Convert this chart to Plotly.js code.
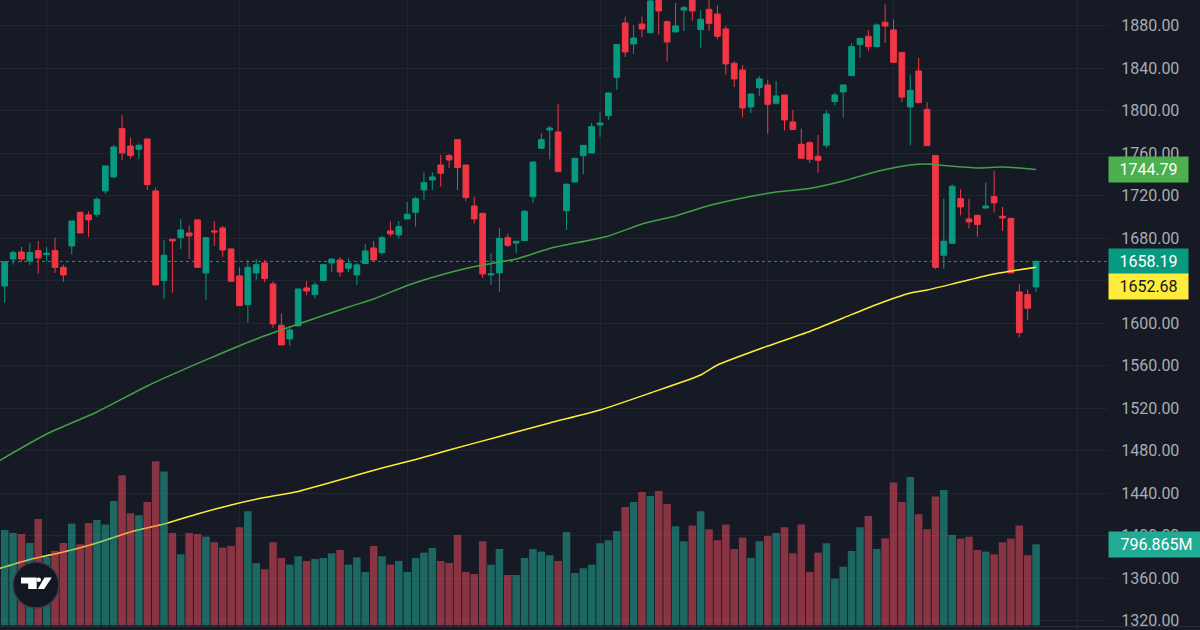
<!DOCTYPE html>
<html>
<head>
<meta charset="utf-8">
<script src="https://cdn.plot.ly/plotly-3.0.1.min.js"></script>
<style>html,body{margin:0;padding:0;background:#161A25;overflow:hidden}#chart{width:1200px;height:630px}</style>
</head>
<body>
<div id="chart"></div>
<script>
var opens = [1635.1,1660.5,1667.1,1658.6,1668.4,1664.6,1668.4,1652.7,1672.8,1704.5,
1702.0,1702.6,1724.6,1737.7,1783.2,1766.9,1763.8,1773.5,1724.6,1640.2,
1679.1,1680.6,1685.0,1697.3,1647.4,1686.9,1689.7,1670.0,1644.6,1617.6,
1647.4,1656.8,1637.0,1598.1,1585.3,1597.5,1633.3,1627.0,1640.2,1656.8,
1659.6,1651.8,1645.5,1656.2,1670.9,1666.5,1686.9,1683.1,1698.2,1704.5,
1725.5,1734.9,1749.0,1757.8,1772.9,1749.0,1710.4,1703.5,1645.5,1647.4,
1680.6,1675.6,1677.8,1719.2,1764.7,1782.0,1780.1,1706.0,1733.0,1757.8,
1760.3,1786.7,1795.4,1831.5,1882.7,1862.9,1881.7,1873.6,1907.4,1883.9,
1874.2,1894.9,1908.0,1876.4,1895.5,1891.1,1877.0,1844.7,1838.4,1803.6,
1821.8,1824.3,1807.1,1814.9,1789.5,1768.5,1770.0,1757.2,1767.5,1808.6,
1817.7,1833.1,1862.3,1870.1,1860.4,1883.3,1876.1,1855.0,1803.6,1837.5,
1801.4,1757.8,1664.0,1675.3,1717.3,1698.2,1701.6,1708.5,1719.2,1700.7,
1698.8,1629.5,1627.0,1634.2];
var highs = [1658.4,1668.4,1671.8,1675.3,1677.5,1671.8,1680.6,1655.2,1696.3,1704.5,
1705.4,1718.6,1748.1,1767.9,1795.8,1774.8,1769.4,1773.5,1728.0,1678.1,
1679.1,1697.9,1692.2,1697.3,1680.6,1696.3,1691.6,1670.0,1652.7,1659.6,
1660.5,1659.6,1639.5,1609.4,1597.2,1632.3,1639.5,1638.6,1655.2,1660.5,
1662.4,1661.2,1656.5,1674.7,1677.5,1682.2,1695.7,1696.3,1714.2,1719.2,
1742.1,1742.1,1758.7,1759.4,1772.9,1749.0,1719.2,1703.5,1665.9,1689.4,
1684.1,1677.2,1706.7,1751.8,1778.8,1785.7,1806.4,1731.8,1755.3,1767.5,
1788.5,1798.3,1817.4,1862.3,1888.6,1880.8,1888.6,1906.0,1912.0,1884.9,
1901.5,1899.0,1912.0,1894.9,1906.0,1899.3,1879.8,1846.6,1843.1,1815.8,
1832.5,1829.0,1828.1,1814.9,1800.8,1783.2,1771.3,1777.3,1800.5,1816.8,
1824.3,1863.8,1868.2,1876.1,1882.3,1900.2,1886.1,1855.0,1834.3,1849.7,
1808.0,1757.8,1717.3,1730.8,1726.1,1717.3,1701.6,1732.4,1743.7,1709.5,
1698.8,1637.0,1631.4,1659.6];
var lows = [1619.4,1655.2,1658.0,1654.9,1646.4,1658.3,1647.4,1639.2,1664.6,1685.0,
1681.3,1700.1,1721.7,1736.8,1753.4,1755.0,1754.4,1725.5,1636.1,1622.9,
1628.9,1670.0,1660.5,1652.7,1622.0,1672.8,1662.4,1639.5,1616.6,1600.6,
1641.1,1638.6,1595.6,1579.6,1578.7,1597.5,1626.4,1623.5,1640.2,1648.3,
1643.9,1648.3,1636.1,1656.2,1659.6,1664.6,1681.6,1679.7,1698.2,1691.0,
1715.8,1725.5,1728.6,1746.2,1725.5,1714.8,1693.8,1642.7,1636.1,1629.8,
1671.8,1665.9,1677.8,1713.3,1764.1,1754.4,1742.7,1687.8,1732.4,1740.2,
1760.3,1775.4,1791.4,1819.9,1850.7,1853.5,1869.2,1872.9,1871.7,1846.3,
1873.9,1875.1,1884.9,1859.4,1875.1,1867.3,1834.0,1822.4,1793.6,1798.0,
1814.0,1778.2,1805.8,1781.3,1782.3,1755.3,1750.9,1741.8,1765.0,1804.9,
1793.6,1833.1,1849.7,1856.0,1859.8,1863.8,1845.0,1808.3,1767.5,1807.1,
1767.2,1650.8,1651.5,1675.3,1701.6,1689.4,1681.3,1707.6,1704.2,1686.9,
1647.4,1586.8,1603.1,1629.5];
var closes = [1658.0,1666.5,1660.5,1666.5,1661.5,1665.9,1652.7,1645.5,1696.3,1685.0,
1697.3,1716.7,1748.1,1766.0,1760.3,1757.8,1767.5,1730.5,1636.1,1664.0,
1677.5,1687.9,1682.2,1652.7,1680.6,1686.0,1669.0,1639.5,1616.6,1652.7,
1655.2,1642.1,1599.4,1579.6,1593.7,1632.3,1630.4,1636.1,1655.2,1660.5,
1648.3,1656.2,1654.9,1668.1,1659.6,1680.6,1684.1,1691.0,1702.6,1717.3,
1732.4,1737.7,1741.2,1753.7,1746.5,1718.3,1698.2,1646.4,1646.4,1680.0,
1673.4,1677.2,1705.4,1751.8,1772.9,1783.8,1742.7,1730.8,1755.3,1767.5,
1785.1,1788.5,1816.8,1862.3,1855.4,1868.5,1877.0,1903.4,1893.9,1864.8,
1879.8,1897.1,1893.9,1886.1,1882.3,1870.1,1844.1,1830.0,1802.7,1815.8,
1830.0,1806.1,1814.0,1791.4,1782.3,1755.3,1754.4,1753.4,1797.0,1814.9,
1824.3,1860.4,1868.2,1860.4,1880.8,1879.8,1845.6,1813.0,1819.3,1807.7,
1767.2,1652.7,1677.2,1728.9,1709.5,1695.4,1692.9,1710.4,1713.3,1699.1,
1647.4,1591.2,1614.1,1658.19];
var volumes = [938,909,899,810,1046,676,731,810,1000,797,
1007,1036,991,1223,1476,1102,1082,1214,1614,1512,
909,699,909,899,872,817,764,781,964,1122,
613,551,817,663,597,679,633,653,663,708,
741,597,669,525,781,679,597,633,525,663,
715,761,633,613,889,525,505,827,597,751,
495,495,663,751,725,689,633,918,515,561,
597,807,836,928,1164,1214,1312,1273,1322,1194,
974,827,981,1122,945,836,991,751,863,663,
827,879,909,964,708,991,525,715,807,459,
577,731,964,1076,751,856,1404,1214,1460,1092,
945,1266,1332,889,853,872,741,725,699,817,
853,981,689,796.865];
var greenMaBars = [-1,5,11,17,24,30,34,41,44,48,52,55,57,61,65,72,76,80,84,88,92,96,100,104,108,110,112,116,119,123];
var greenMaValues = [1469.0,1495.8,1516.5,1541.0,1565.5,1585.2,1596.5,1615.3,1622.9,1635.6,1645.5,1651.6,1654.9,1660.5,1670.4,1682.2,1693.5,1701.0,1710.9,1717.9,1723.6,1726.9,1733.9,1742.9,1749.0,1749.9,1748.5,1746.2,1747.1,1744.79];
var yellowMaBars = [-1,3,7,11,15,19,23,27,31,35,41,45,49,53,59,65,71,77,83,85,91,96,100,104,108,110,114,118,123];
var yellowMaValues = [1368.3,1377.7,1384.7,1393.2,1403.6,1411.1,1420.5,1429.0,1436.0,1441.7,1454.9,1463.8,1471.8,1480.7,1493.5,1506.2,1518.4,1534.4,1551.3,1560.7,1578.6,1592.3,1605.0,1617.7,1628.5,1631.3,1638.9,1646.4,1652.68];
var priceTicks = [1320,1360,1400,1440,1480,1520,1560,1600,1640,1680,1720,1760,1800,1840,1880];
var timeGridBars = [5,28,48,71,91,106,128];

var W = 1200, H = 630, PW = 1108, PH = 630;
var UP = '#089981', DOWN = '#F23645', GRID = '#212530', BG = '#161A25';
var bars = closes.map(function (_, i) { return i; });
var lastClose = closes[closes.length - 1];
var lastVol = volumes[volumes.length - 1];
var lastGreen = greenMaValues[greenMaValues.length - 1];
var lastYellow = yellowMaValues[yellowMaValues.length - 1];
function pxX(x) { return x / PW; }
function pxY(y) { return 1 - y / PH; }
function P(x, y) { return pxX(x).toFixed(5) + ',' + pxY(y).toFixed(5); }

var traces = [
  { type: 'bar', x: bars, y: volumes, yaxis: 'y2', hoverinfo: 'skip', showlegend: false,
    marker: { color: closes.map(function (c, i) { return c >= opens[i] ? 'rgba(34,180,158,0.5)' : 'rgba(252,78,95,0.5)'; }), line: { width: 0 } } },
  { type: 'candlestick', x: bars, open: opens, high: highs, low: lows, close: closes, hoverinfo: 'skip', showlegend: false,
    whiskerwidth: 0,
    increasing: { line: { color: UP, width: 1 }, fillcolor: UP },
    decreasing: { line: { color: DOWN, width: 1 }, fillcolor: DOWN } },
  { type: 'scatter', mode: 'lines', x: greenMaBars, y: greenMaValues, hoverinfo: 'skip', showlegend: false,
    line: { color: '#43A047', width: 1.5, shape: 'spline', smoothing: 0.6 } },
  { type: 'scatter', mode: 'lines', x: yellowMaBars, y: yellowMaValues, hoverinfo: 'skip', showlegend: false,
    line: { color: '#FFEB3B', width: 1.5, shape: 'spline', smoothing: 0.6 } }
];

function label(text, y, yref, bg, fg, w, yshift) {
  return { text: text, xref: 'paper', yref: yref, x: 1, y: y, xanchor: 'left', yanchor: 'middle',
    yshift: yshift || 0, showarrow: false, width: w, height: 25, align: 'center', valign: 'middle', bgcolor: bg, borderpad: 0,
    font: { family: 'Roboto, sans-serif', size: 16, color: fg } };
}

var layout = {
  width: W, height: H, autosize: false,
  paper_bgcolor: BG, plot_bgcolor: BG,
  margin: { l: 0, r: W - PW, t: 0, b: 0, pad: 0 },
  showlegend: false, dragmode: false, bargap: 0.1, boxgap: 0.32, boxgroupgap: 0,
  font: { family: 'Roboto, sans-serif', size: 16, color: '#A9ACB6' },
  xaxis: { type: 'linear', range: [-0.56, 131.58], rangeslider: { visible: false }, showticklabels: false,
    tickmode: 'array', tickvals: timeGridBars, ticks: '', showgrid: true, gridcolor: GRID, gridwidth: 1, zeroline: false, showline: false, fixedrange: true },
  yaxis: { side: 'right', range: [1311.3, 1904.28], tickmode: 'array', tickvals: priceTicks, tickformat: '.2f',
    ticklabeloverflow: 'allow', showgrid: true, gridcolor: GRID, gridwidth: 1, zeroline: false, showline: false, ticks: 'outside', ticklen: 9, tickcolor: 'rgba(0,0,0,0)',
    tickfont: { family: 'Roboto, sans-serif', size: 16, color: '#A9ACB6' }, fixedrange: true },
  yaxis2: { overlaying: 'y', side: 'right', range: [-46.2, 6152], showgrid: false, showticklabels: false, ticks: '', zeroline: false, showline: false, fixedrange: true },
  shapes: [
    { type: 'line', xref: 'paper', yref: 'y', x0: 0, x1: 1, y0: lastClose, y1: lastClose, layer: 'between',
      line: { color: '#089981', width: 1, dash: 'dot' } },
    { type: 'line', xref: 'paper', yref: 'paper', x0: 0, x1: W / PW, y0: pxY(626.5), y1: pxY(626.5), layer: 'above',
      line: { color: '#2A2E39', width: 1 } },
    { type: 'circle', xref: 'paper', yref: 'paper', x0: pxX(13), x1: pxX(59), y0: pxY(608), y1: pxY(562), layer: 'above',
      fillcolor: '#131722', line: { color: '#3A3E4A', width: 1.5 } },
    { type: 'path', xref: 'paper', yref: 'paper', layer: 'above', fillcolor: '#FFFFFF', line: { width: 0 },
      path: 'M' + P(21, 577.5) + 'L' + P(36.7, 577.5) + 'L' + P(36.7, 589) + 'L' + P(28.2, 589) + 'L' + P(28.2, 583.5) + 'L' + P(21, 583.5) + 'Z' },
    { type: 'circle', xref: 'paper', yref: 'paper', layer: 'above', fillcolor: '#FFFFFF', line: { width: 0 },
      x0: pxX(36.6), x1: pxX(41), y0: pxY(582), y1: pxY(577.5) },
    { type: 'path', xref: 'paper', yref: 'paper', layer: 'above', fillcolor: '#FFFFFF', line: { width: 0 },
      path: 'M' + P(44.5, 577.5) + 'L' + P(51.7, 577.5) + 'L' + P(44.2, 589) + 'L' + P(37.8, 589) + 'Z' }
  ],
  annotations: [
    label(lastGreen.toFixed(2), lastGreen, 'y', '#4CAF50', '#FFFFFF', 79),
    label(lastClose.toFixed(2), lastClose, 'y', '#089981', '#FFFFFF', 79),
    label(lastYellow.toFixed(2), lastYellow, 'y', '#FFEB3B', '#131722', 79, -19),
    label(lastVol.toFixed(3) + 'M', lastVol, 'y2', '#22AB94', '#FFFFFF', 95)
  ]
};

Plotly.newPlot('chart', traces, layout, { displayModeBar: false, staticPlot: true });
</script>
</body>
</html>
